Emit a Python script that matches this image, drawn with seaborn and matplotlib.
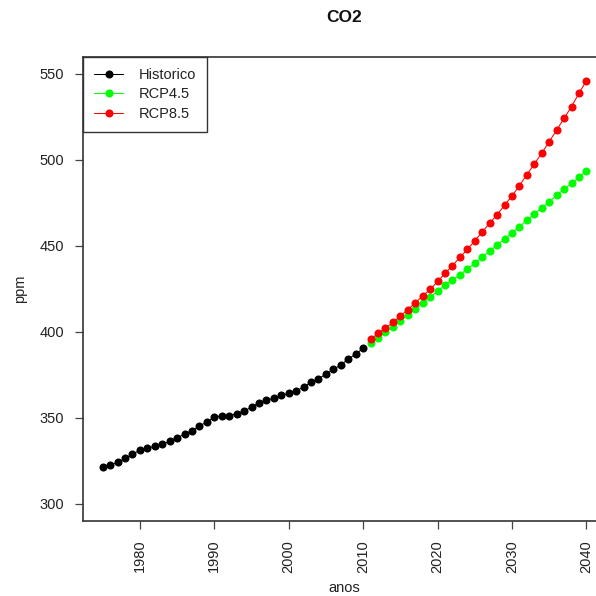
import matplotlib
matplotlib.use('Agg')
import matplotlib.pyplot as plt
import seaborn as sns
import pandas as pd

# ── Data ──────────────────────────────────────────────────────
anos_hist = list(range(1975, 2011))
co2_hist = [321.0, 322.3, 323.9, 326.2, 328.7, 331.0, 332.4, 333.2, 334.4, 336.3,
            338.4, 340.2, 342.3, 345.0, 347.5, 350.1, 351.2, 351.2, 352.2, 353.8,
            356.1, 358.6, 360.2, 361.2, 362.9, 364.1, 365.4, 367.9, 370.5, 372.6,
            375.3, 378.0, 380.7, 384.0, 387.0, 390.3]

anos_proj = list(range(2011, 2041))
co2_rcp45 = [393.2, 396.4, 399.6, 402.9, 406.2, 409.5, 413.0, 416.5, 420.0, 423.6,
             427.0, 430.1, 433.1, 436.5, 439.8, 443.3, 446.9, 450.4, 453.9, 457.6,
             461.1, 464.8, 468.5, 472.0, 475.6, 479.4, 483.0, 486.3, 489.8, 493.4]
co2_rcp85 = [395.5, 399.0, 402.1, 405.4, 409.1, 412.8, 416.8, 420.7, 424.6, 429.2,
             433.9, 438.5, 443.2, 447.9, 452.9, 458.0, 463.1, 468.1, 473.6, 479.0,
             485.0, 491.4, 497.6, 503.9, 510.6, 517.3, 524.2, 531.0, 538.8, 546.0]

series_names = ['Historico', 'RCP4.5', 'RCP8.5']
series_colors = ['#000000', '#00FF00', '#FF0000']

x_ticks = [1980, 1990, 2000, 2010, 2020, 2030, 2040]
y_ticks = [300, 350, 400, 450, 500, 550]

df = pd.concat([
    pd.DataFrame({'ano': anos_hist, 'ppm': co2_hist, 'serie': series_names[0]}),
    pd.DataFrame({'ano': anos_proj, 'ppm': co2_rcp45, 'serie': series_names[1]}),
    pd.DataFrame({'ano': anos_proj, 'ppm': co2_rcp85, 'serie': series_names[2]}),
])

# ── Style ─────────────────────────────────────────────────────
sns.set_style('white')
plt.rcParams['font.family'] = ['Liberation Sans', 'DejaVu Sans']
FS = 10.5
INK = '#222222'
MS = 5.8
LW = 0.75

fig = plt.figure(figsize=(5.96, 5.96), dpi=100, facecolor='white')
# plot region runs off the right edge, as in the reference
ax = fig.add_axes([83.3 / 596, 1 - 520.7 / 596, 522.5 / 596, 464.0 / 596])

sns.lineplot(
    data=df, x='ano', y='ppm', hue='serie',
    palette=dict(zip(series_names, series_colors)),
    marker='o', markersize=MS, markeredgewidth=0,
    linewidth=LW, ax=ax, legend=False,
)

ax.set_xlim(1972.4, 2042.6)
ax.set_ylim(290, 560)
ax.set_xticks(x_ticks)
ax.set_yticks(y_ticks)

for s in ax.spines.values():
    s.set_color('#333333')
    s.set_linewidth(1.2)

ax.tick_params(axis='both', which='major', bottom=True, left=True,
               direction='out', length=5.8, width=0.9,
               color='#444444', labelsize=FS, labelcolor=INK, pad=8)
ax.tick_params(axis='x', rotation=90)
ax.tick_params(axis='y', rotation=0)

ax.set_xlabel('anos', fontsize=FS, color=INK)
ax.set_ylabel('ppm', fontsize=FS, color=INK)
ax.xaxis.set_label_coords(0.5, -0.145)
ax.xaxis.label.set_va('center')
ax.yaxis.set_label_coords(-0.121, 0.5)
ax.yaxis.label.set_va('center')

fig.text(344.5 / 596, 1 - 18 / 596, 'CO2', ha='center', va='center',
         fontsize=12.5, fontweight='bold', color='#111111')

# legend built from the same series
handles = [plt.Line2D([], [], color=c, marker='o', markersize=MS,
                      markeredgewidth=0, linewidth=LW)
           for c in series_colors]
leg = ax.legend(handles, series_names, loc='upper left', bbox_to_anchor=(0, 1),
                borderaxespad=0, fancybox=False, framealpha=1, fontsize=FS,
                handlelength=2.0, handletextpad=1.05, labelspacing=0.38,
                borderpad=0.75)
leg.get_frame().set_edgecolor('#333333')
leg.get_frame().set_linewidth(1.0)
for t in leg.get_texts():
    t.set_color(INK)

fig.savefig('out.png', dpi=100, facecolor='white')
